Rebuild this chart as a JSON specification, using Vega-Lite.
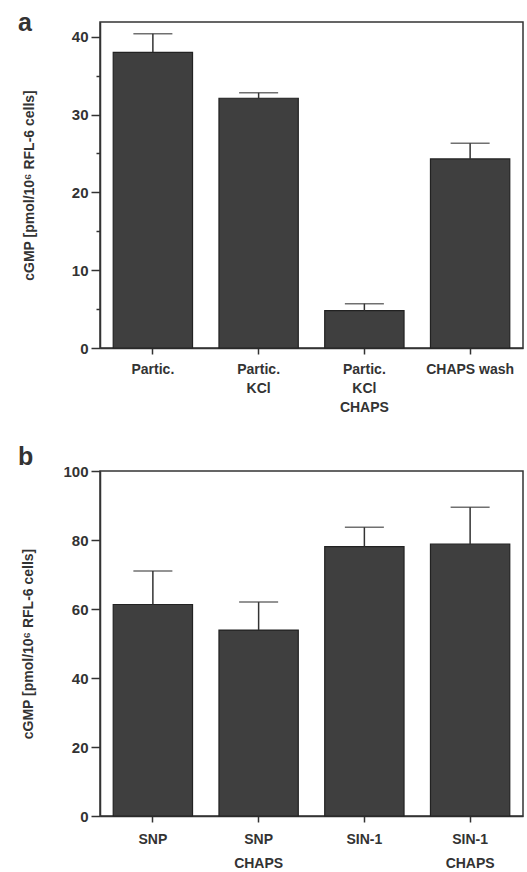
{
  "$schema": "https://vega.github.io/schema/vega-lite/v6.json",
  "background": "white",
  "padding": {"top": 10, "left": 17, "right": 3, "bottom": 0},
  "spacing": 29,
  "config": {
    "font": "Liberation Sans",
    "view": {"stroke": "#333333", "strokeWidth": 1.5},
    "axis": {
      "domainColor": "#333333", "domainWidth": 1.5,
      "tickColor": "#333333", "tickWidth": 1.5,
      "labelFont": "Liberation Sans", "labelFontWeight": "bold", "labelColor": "#333333",
      "titleFont": "Liberation Sans", "titleFontWeight": "bold", "titleColor": "#333333",
      "grid": false
    },
    "title": {"font": "Liberation Sans", "fontWeight": "bold", "color": "#333333"}
  },
  "vconcat": [
    {
      "width": 423,
      "height": 326,
      "title": {"text": "a", "fontSize": 25, "anchor": "start", "frame": "group", "dx": -82, "baseline": "alphabetic", "offset": -34},
      "data": {"values": [
        {"cond": "Partic.", "v": 38.0, "e": 40.4},
        {"cond": "Partic.|KCl", "v": 32.1, "e": 32.8},
        {"cond": "Partic.|KCl|CHAPS", "v": 4.8, "e": 5.7},
        {"cond": "CHAPS  wash", "v": 24.3, "e": 26.3}
      ]},
      "encoding": {
        "x": {"field": "cond", "type": "nominal", "sort": null,
          "scale": {"paddingInner": 0.25, "paddingOuter": 0.125},
          "axis": {"title": null, "labelAngle": 0, "labelExpr": "split(datum.label, '|')", "labelFontSize": 14, "labelLineHeight": 19, "tickSize": 6, "labelPadding": 8}}
      },
      "layer": [
        {
          "mark": {"type": "bar", "fill": "#3f3f3f", "stroke": "#222222", "strokeWidth": 1.2},
          "encoding": {
            "y": {"field": "v", "type": "quantitative",
              "scale": {"domain": [0, 41.9], "nice": false},
              "axis": {"title": "cGMP [pmol/10⁶ RFL-6 cells]", "titleFontSize": 14, "titlePadding": 35,
                "values": [0, 5, 10, 15, 20, 25, 30, 35, 40],
                "labelExpr": "datum.value % 10 === 0 ? datum.label : ''",
                "tickSize": {"condition": {"test": "datum.value % 10 === 0", "value": 9}, "value": 4},
                "labelFontSize": 15, "labelPadding": 3}}
          }
        },
        {
          "mark": {"type": "rule", "color": "#333333", "strokeWidth": 1.5},
          "encoding": {"y": {"field": "v", "type": "quantitative"}, "y2": {"field": "e"}}
        },
        {
          "mark": {"type": "tick", "color": "#333333", "thickness": 1.5, "size": 39},
          "encoding": {"y": {"field": "e", "type": "quantitative"}}
        }
      ]
    },
    {
      "width": 423,
      "height": 345,
      "title": {"text": "b", "fontSize": 25, "anchor": "start", "frame": "group", "dx": -82, "baseline": "alphabetic", "offset": -26},
      "data": {"values": [
        {"cond": "SNP", "v": 61.3, "e": 71.0},
        {"cond": "SNP|CHAPS", "v": 53.9, "e": 62.0},
        {"cond": "SIN-1", "v": 78.1, "e": 83.7},
        {"cond": "SIN-1|CHAPS", "v": 78.8, "e": 89.5}
      ]},
      "encoding": {
        "x": {"field": "cond", "type": "nominal", "sort": null,
          "scale": {"paddingInner": 0.25, "paddingOuter": 0.125},
          "axis": {"title": null, "labelAngle": 0, "labelExpr": "split(datum.label, '|')", "labelFontSize": 14, "labelLineHeight": 24, "tickSize": 6, "labelPadding": 10}}
      },
      "layer": [
        {
          "mark": {"type": "bar", "fill": "#3f3f3f", "stroke": "#222222", "strokeWidth": 1.2},
          "encoding": {
            "y": {"field": "v", "type": "quantitative",
              "scale": {"domain": [0, 100], "nice": false},
              "axis": {"title": "cGMP [pmol/10⁶ RFL-6 cells]", "titleFontSize": 14, "titlePadding": 27,
                "values": [0, 10, 20, 30, 40, 50, 60, 70, 80, 90, 100],
                "labelExpr": "datum.value % 20 === 0 ? datum.label : ''",
                "tickSize": {"condition": {"test": "datum.value % 20 === 0", "value": 9}, "value": 4},
                "labelFontSize": 15, "labelPadding": 3}}
          }
        },
        {
          "mark": {"type": "rule", "color": "#333333", "strokeWidth": 1.5},
          "encoding": {"y": {"field": "v", "type": "quantitative"}, "y2": {"field": "e"}}
        },
        {
          "mark": {"type": "tick", "color": "#333333", "thickness": 1.5, "size": 39},
          "encoding": {"y": {"field": "e", "type": "quantitative"}}
        }
      ]
    }
  ]
}
